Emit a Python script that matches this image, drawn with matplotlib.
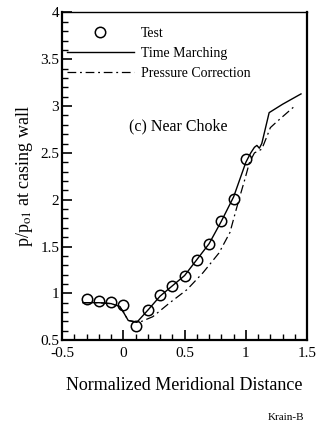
import numpy as np
import matplotlib
matplotlib.use("Agg")
import matplotlib.pyplot as plt
from matplotlib.ticker import MultipleLocator

plt.rcParams['font.family'] = ['Liberation Serif', 'DejaVu Serif']
plt.rcParams['mathtext.fontset'] = 'stix'

# measured wall pressure
x_test = [-0.3, -0.2, -0.1, 0.0, 0.1, 0.2, 0.3, 0.4, 0.5, 0.6, 0.7, 0.8, 0.9, 1.0]
y_test = [0.94, 0.92, 0.91, 0.88, 0.65, 0.82, 0.98, 1.08, 1.19, 1.36, 1.53, 1.77, 2.01, 2.44]

# time marching solution
x_tm = [-0.33, -0.2, -0.1, -0.03, 0.0, 0.04, 0.11, 0.2, 0.3, 0.4, 0.5, 0.6, 0.7, 0.8,
        0.9, 1.0, 1.04, 1.07, 1.09, 1.11, 1.13, 1.19, 1.3, 1.45]
y_tm = [0.9, 0.9, 0.89, 0.86, 0.8, 0.71, 0.69, 0.82, 0.97, 1.08, 1.19, 1.36, 1.53, 1.77,
        2.03, 2.4, 2.5, 2.56, 2.58, 2.55, 2.6, 2.93, 3.02, 3.13]

# pressure correction solution
x_pc = [-0.33, -0.2, -0.1, -0.03, 0.0, 0.04, 0.13, 0.24, 0.38, 0.52, 0.65, 0.78, 0.87,
        0.92, 0.95, 0.99, 1.03, 1.07, 1.13, 1.17, 1.2, 1.25, 1.39]
y_pc = [0.9, 0.9, 0.89, 0.86, 0.8, 0.71, 0.69, 0.75, 0.9, 1.04, 1.22, 1.43, 1.65,
        1.89, 2.03, 2.21, 2.4, 2.5, 2.54, 2.67, 2.77, 2.83, 2.99]

fig = plt.figure(figsize=(3.25, 4.3), dpi=100)
ax = fig.add_axes([0.191, 0.209, 0.754, 0.762])

ax.plot(x_test, y_test, 'o', mfc='none', mec='black', ms=7.5, mew=1.1, label='Test')
ax.plot(x_tm, y_tm, '-', c='black', lw=1.0, label='Time Marching')
ax.plot(x_pc, y_pc, c='black', lw=0.9, dashes=[7, 3, 1.5, 3], label='Pressure Correction')

ax.set_xlim(-0.5, 1.5)
ax.set_ylim(0.5, 4)
ax.xaxis.set_major_locator(MultipleLocator(0.5))
ax.xaxis.set_minor_locator(MultipleLocator(0.1))
ax.yaxis.set_major_locator(MultipleLocator(0.5))
ax.yaxis.set_minor_locator(MultipleLocator(0.1))
ax.xaxis.set_major_formatter(lambda v, p: '%g' % v)
ax.yaxis.set_major_formatter(lambda v, p: '%g' % v)
ax.tick_params(which='major', direction='in', length=7, width=1.2, labelsize=11, pad=2)
ax.tick_params(axis='x', which='major', pad=5)
ax.tick_params(which='minor', direction='in', length=4, width=1.0)

for s in ['left', 'bottom', 'right']:
    ax.spines[s].set_linewidth(1.6)
ax.spines['top'].set_linewidth(1.0)

ax.set_xlabel('Normalized Meridional Distance', fontsize=13, labelpad=12)
ax.set_ylabel('p/p$_{\\rm o1}$ at casing wall', fontsize=13, labelpad=4)

ax.text(0.05, 2.78, '(c) Near Choke', fontsize=11.5, va='center', ha='left')

ax.legend(loc='upper left', bbox_to_anchor=(-0.02, 0.985), frameon=False, fontsize=10,
          handlelength=4.8, handletextpad=0.55, labelspacing=0.5, borderaxespad=0.3)

fig.text(0.88, 0.018, 'Krain-B', fontsize=8, ha='center', va='bottom')

fig.savefig('out.png', dpi=100)
